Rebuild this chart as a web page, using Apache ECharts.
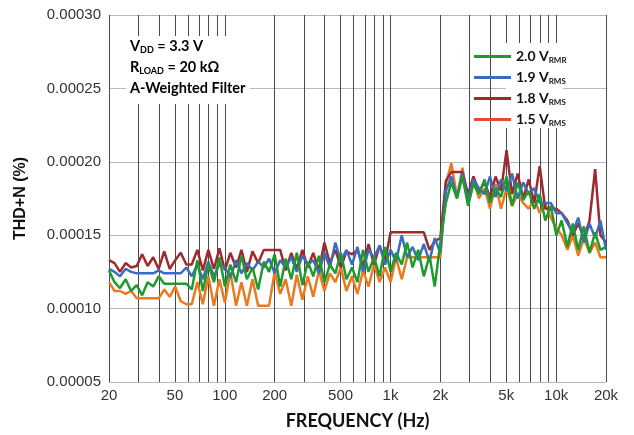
<!DOCTYPE html>
<html>
<head>
<meta charset="utf-8">
<script src="https://cdn.jsdelivr.net/npm/echarts@6/dist/echarts.min.js"></script>
<style>
  html, body { margin: 0; padding: 0; background: #fff; }
  #chart { width: 634px; height: 435px; }
</style>
</head>
<body>
<div id="chart"></div>
<script>
// frequency points (Hz), ~30 per decade
const freqs = [
  20, 21.6, 23.3, 25.2, 27.2, 29.4, 31.7, 34.2, 37.0, 39.9,
  43.1, 46.5, 50.2, 54.2, 58.6, 63.2, 68.3, 73.7, 79.6, 86.0,
  92.8, 100.2, 108, 117, 126, 136, 147, 159, 172, 185,
  200, 216, 233, 252, 272, 294, 317, 342, 370, 399,
  431, 465, 502, 542, 586, 632, 683, 737, 796, 860,
  928, 1002, 1080, 1170, 1260, 1360, 1470, 1590, 1720, 1850,
  2000, 2160, 2330, 2520, 2720, 2940, 3170, 3420, 3700, 3990,
  4310, 4650, 5020, 5420, 5860, 6320, 6830, 7370, 7960, 8600,
  9280, 10020, 10800, 11700, 12600, 13600, 14700, 15900, 17200, 18500,
  20000
];

// THD+N in units of 1e-6 %
const thd20 = [
  126, 118, 114, 120, 112, 116, 109, 118, 115, 122,
  117, 117, 117, 117, 117, 113, 133, 112, 130, 118,
  135, 115, 130, 118, 136, 120, 128, 113, 132, 125,
  137, 115, 134, 120, 138, 116, 132, 122, 136, 118,
  130, 124, 138, 120, 128, 118, 140, 125, 135, 122,
  142, 125, 138, 130, 145, 128, 140, 122, 136, 115,
  145, 172, 186, 175, 190, 170, 185, 178, 188, 172,
  182, 176, 190, 170, 186, 174, 180, 168, 178, 160,
  170, 150, 160, 142, 158, 140, 156, 138, 152, 140,
  142
];
const thd19 = [
  127, 125, 122, 127, 125, 124, 124, 124, 124, 126,
  124, 124, 124, 124, 128, 122, 130, 120, 132, 122,
  130, 128, 121, 133, 124, 131, 126, 132, 128, 134,
  124, 133, 128, 135, 125, 136, 130, 133, 124, 138,
  128, 145, 132, 140, 130, 142, 125, 140, 135, 143,
  130, 140, 132, 150, 135, 142, 133, 144, 132, 148,
  138, 180, 190, 176, 192, 174, 188, 182, 178, 190,
  176, 188, 180, 192, 175, 186, 178, 182, 172, 172,
  172, 165, 165, 158, 152, 162, 145, 158, 148, 160,
  140
];
const thd18 = [
  133, 131, 125, 131, 128, 129, 137, 129, 135, 127,
  139, 127, 133, 138, 130, 130, 140, 126, 140, 127,
  141, 126, 138, 128, 140, 125, 139, 131, 140, 140,
  140, 140, 126, 138, 127, 140, 128, 138, 126, 145,
  131, 140, 128, 139, 137, 140, 129, 144, 130, 143,
  132, 152, 152, 152, 152, 152, 152, 152, 140, 146,
  148, 187, 193, 193, 193, 178, 190, 180, 186, 176,
  190, 180, 208, 178, 192, 175, 188, 172, 197, 168,
  168, 168, 165, 160, 150, 158, 148, 160, 195, 150,
  145
];
const thd15 = [
  118, 112, 112, 110, 112, 107, 107, 107, 107, 107,
  113, 108, 115, 105, 103, 103, 118, 103, 122, 102,
  120, 104, 125, 102, 118, 102, 120, 102, 102, 102,
  125, 110, 120, 102, 123, 106, 122, 108, 126, 112,
  124, 118, 128, 112, 122, 110, 126, 115, 130, 118,
  128, 118, 135, 120, 135, 135, 135, 135, 135, 135,
  135, 185, 199, 176, 196, 172, 188, 175, 182, 168,
  185, 168, 182, 170, 178, 172, 168, 175, 165, 172,
  162, 155, 150, 140, 150, 136, 148, 138, 145, 135,
  135
];

const xLabelValues = [20, 50, 100, 200, 500, 1000, 2000, 5000, 10000, 20000];
const xGridValues = [
  20, 30, 40, 50, 60, 70, 80, 90, 100,
  200, 300, 400, 500, 600, 700, 800, 900, 1000,
  2000, 3000, 4000, 5000, 6000, 7000, 8000, 9000, 10000, 20000
];
const seriesNames = ['2.0 V', '1.9 V', '1.8 V', '1.5 V'];
const seriesSubs = ['RMR', 'RMS', 'RMS', 'RMS'];

const colors = {
  '2.0 V': '#1f9a2e',
  '1.9 V': '#3b6cc0',
  '1.8 V': '#9e2a2e',
  '1.5 V': '#ea7a1e'
};

function pairs(vals) {
  return freqs.map((f, i) => [f, vals[i] * 1e-6]);
}

function fmtFreq(v) {
  return v >= 1000 ? (v / 1000) + 'k' : String(v);
}

const chart = echarts.init(document.getElementById('chart'));

const font = 'Lato, "Liberation Sans", sans-serif';

const lineSeries = [
  { name: '1.5 V', vals: thd15 },
  { name: '1.8 V', vals: thd18 },
  { name: '1.9 V', vals: thd19 },
  { name: '2.0 V', vals: thd20 }
].map(s => ({
  name: s.name,
  type: 'line',
  data: pairs(s.vals),
  showSymbol: false,
  color: colors[s.name],
  lineStyle: { width: 2.5, color: colors[s.name] }
}));

const option = {
  animation: false,
  grid: { left: 109, right: 28, top: 15, bottom: 52 },
  legend: {
    orient: 'vertical',
    left: 469,
    top: 44,
    itemWidth: 37,
    itemHeight: 10,
    itemGap: 6,
    data: seriesNames.map(n => ({
      name: n,
      icon: 'path://M0,0 L40,0 L40,3 L0,3 Z',
      itemStyle: { color: n === '1.5 V' ? '#e8483a' : colors[n] }
    })),
    formatter: function (name) {
      const i = seriesNames.indexOf(name);
      return '{b|' + name + '}{s|' + seriesSubs[i] + '}';
    },
    textStyle: {
      rich: {
        b: { fontFamily: font, fontWeight: 'bold', fontSize: 14, color: '#111', lineHeight: 16 },
        s: { fontFamily: font, fontWeight: 'bold', fontSize: 8, color: '#111', lineHeight: 16, padding: [7, 0, 0, 0] }
      }
    }
  },
  graphic: [
    {
      type: 'rect',
      z: 1,
      shape: { x: 506, y: 43, width: 57, height: 85 },
      style: { fill: '#fff' }
    },
    {
      type: 'rect',
      z: 1,
      shape: { x: 126, y: 36, width: 124, height: 68 },
      style: { fill: '#fff' }
    },
    {
      type: 'text',
      z: 5,
      left: 130,
      top: 38,
      style: {
        text: '{m|V}{s|DD}{m| = 3.3 V}\n{m|R}{s|LOAD}{m| = 20 kΩ}\n{m|A-Weighted Filter}',
        rich: {
          m: { fontFamily: font, fontWeight: 'bold', fontSize: 14.5, color: '#111', lineHeight: 21 },
          s: { fontFamily: font, fontWeight: 'bold', fontSize: 9, color: '#111', lineHeight: 21, padding: [8, 0, 0, 0] }
        }
      }
    }
  ],
  xAxis: {
    type: 'log',
    logBase: 10,
    min: 20,
    max: 20000,
    name: 'FREQUENCY (Hz)',
    nameLocation: 'middle',
    nameGap: 30,
    nameTextStyle: { fontFamily: font, fontWeight: 'bold', fontSize: 18, color: '#111' },
    axisLine: { show: false },
    axisTick: { show: false, customValues: xGridValues },
    axisLabel: {
      customValues: xLabelValues,
      formatter: fmtFreq,
      fontFamily: '"Liberation Sans", Arial, sans-serif',
      fontSize: 15,
      color: '#333',
      margin: 6
    },
    splitLine: { show: true, lineStyle: { color: '#4a4a4a', width: 1 } }
  },
  yAxis: {
    type: 'value',
    min: 0.00005,
    max: 0.0003,
    interval: 0.00005,
    name: 'THD+N (%)',
    nameLocation: 'middle',
    nameGap: 80,
    nameTextStyle: { fontFamily: '"Liberation Sans", Arial, sans-serif', fontWeight: 'bold', fontSize: 16, color: '#111' },
    axisLine: { show: false },
    axisTick: { show: false },
    axisLabel: {
      formatter: v => v.toFixed(5),
      fontFamily: '"Liberation Sans", Arial, sans-serif',
      fontSize: 15,
      color: '#333',
      margin: 8
    },
    splitLine: { show: true, lineStyle: { color: '#b8b8b8', width: 1 } }
  },
  series: lineSeries
};

chart.setOption(option);
</script>
</body>
</html>
